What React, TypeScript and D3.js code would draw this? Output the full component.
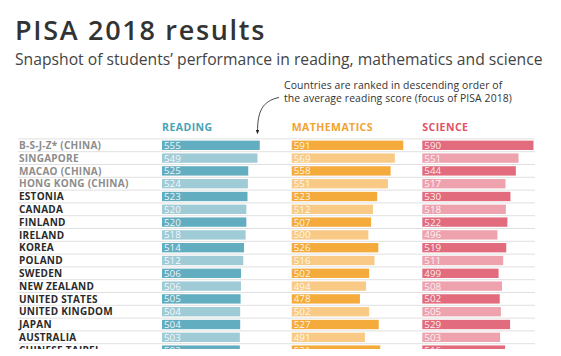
import React from "react";
import * as d3 from "d3";

const countries = [
  "B-S-J-Z* (CHINA)",
  "SINGAPORE",
  "MACAO (CHINA)",
  "HONG KONG (CHINA)",
  "ESTONIA",
  "CANADA",
  "FINLAND",
  "IRELAND",
  "KOREA",
  "POLAND",
  "SWEDEN",
  "NEW ZEALAND",
  "UNITED STATES",
  "UNITED KINGDOM",
  "JAPAN",
  "AUSTRALIA",
  "CHINESE TAIPEI",
];
const greyLabel = [true, true, true, true, false, false, false, false, false, false, false, false, false, false, false, false, false];
const reading = [555, 549, 525, 524, 523, 520, 520, 518, 514, 512, 506, 506, 505, 504, 504, 503, 503];
const mathematics = [591, 569, 558, 551, 523, 512, 507, 500, 526, 516, 502, 494, 478, 502, 527, 491, 531];
const science = [590, 551, 544, 517, 530, 518, 522, 496, 519, 511, 499, 508, 502, 505, 529, 503, 516];
const subjects = ["READING", "MATHEMATICS", "SCIENCE"];

const W = 561;
const H = 356;
const FONT = "'Open Sans', 'DejaVu Sans', sans-serif";

const colStarts = [162, 291.7, 422.3];
const headerColors = ["#4aa3b6", "#f2a22f", "#e2506a"];
const darkColors = ["#62adc0", "#f5ab3c", "#e26c7d"];
const lightColors = ["#9fcbd7", "#f9ca86", "#eea2ae"];
const seriesList = [reading, mathematics, science];

export default function App() {
  const y = d3
    .scaleBand<number>()
    .domain(d3.range(countries.length))
    .range([138.9, 138.9 + 12.8 * countries.length])
    .paddingInner(0.27)
    .paddingOuter(0.135);
  const rowY = d3
    .scaleLinear()
    .domain([0, 1])
    .range([138.9, 138.9 + 12.8]);
  const x = d3.scaleLinear().domain([300, 600]).range([0, 115]);

  return (
    <svg
      width={W}
      height={H}
      style={{ position: "absolute", left: 0, top: 0, background: "#fff" }}
      fontFamily={FONT}
    >
      <defs>
        <marker id="arrowHead" viewBox="0 0 10 10" refX="5" refY="5" markerWidth="5" markerHeight="5" orient="auto">
          <path d="M0,1 L10,5 L0,9 z" fill="#222" />
        </marker>
        <clipPath id="cut">
          <rect x={0} y={0} width={W} height={349} />
        </clipPath>
      </defs>
      <rect width={W} height={H} fill="#fff" />
      <text x={15} y={39.5} fontSize={27} fontWeight={600} fill="#333" letterSpacing={1.7}>
        PISA 2018 results
      </text>
      <text x={15} y={65} fontSize={15.7} fill="#444">
        Snapshot of students’ performance in reading, mathematics and science
      </text>
      <text x={284} y={89} fontSize={10.4} fill="#333" letterSpacing={0.1}>
        Countries are ranked in descending order of
      </text>
      <text x={284} y={102} fontSize={10.4} fill="#333" letterSpacing={0.1}>
        the average reading score (focus of PISA 2018)
      </text>
      <path
        d="M279,97.5 C262,101 257.5,112 257.5,132"
        fill="none"
        stroke="#333"
        strokeWidth={0.9}
        markerEnd="url(#arrowHead)"
      />
      {subjects.map((s, j) => (
        <text
          key={s}
          x={colStarts[j]}
          y={130.8}
          fontSize={10.5}
          fontWeight={700}
          letterSpacing={0.45}
          fill={headerColors[j]}
        >
          {s}
        </text>
      ))}
      <g clipPath="url(#cut)">
        {countries.map((c, i) => (
          <line
            key={"l" + c}
            x1={18}
            x2={535}
            y1={rowY(i)}
            y2={rowY(i)}
            stroke="#e0e0e0"
            strokeWidth={1}
          />
        ))}
        {countries.map((c, i) => {
          const yb = y(i) as number;
          const bh = y.bandwidth();
          return (
            <g key={c}>
              <text
                x={19}
                y={yb + bh / 2}
                dy="0.36em"
                fontSize={10}
                fontWeight={700}
                letterSpacing={0.25}
                fill={greyLabel[i] ? "#8c8c8c" : "#2a2a2a"}
              >
                {c}
              </text>
              {seriesList.map((series, j) => (
                <g key={subjects[j]}>
                  <rect
                    x={colStarts[j]}
                    y={yb}
                    width={x(series[i])}
                    height={bh}
                    fill={i % 2 === 0 ? darkColors[j] : lightColors[j]}
                  />
                  <text
                    x={colStarts[j] + 2}
                    y={yb + bh / 2}
                    dy="0.36em"
                    fontSize={9.8}
                    fill="#fff"
                    fillOpacity={0.9}
                  >
                    {series[i]}
                  </text>
                </g>
              ))}
            </g>
          );
        })}
      </g>
    </svg>
  );
}
